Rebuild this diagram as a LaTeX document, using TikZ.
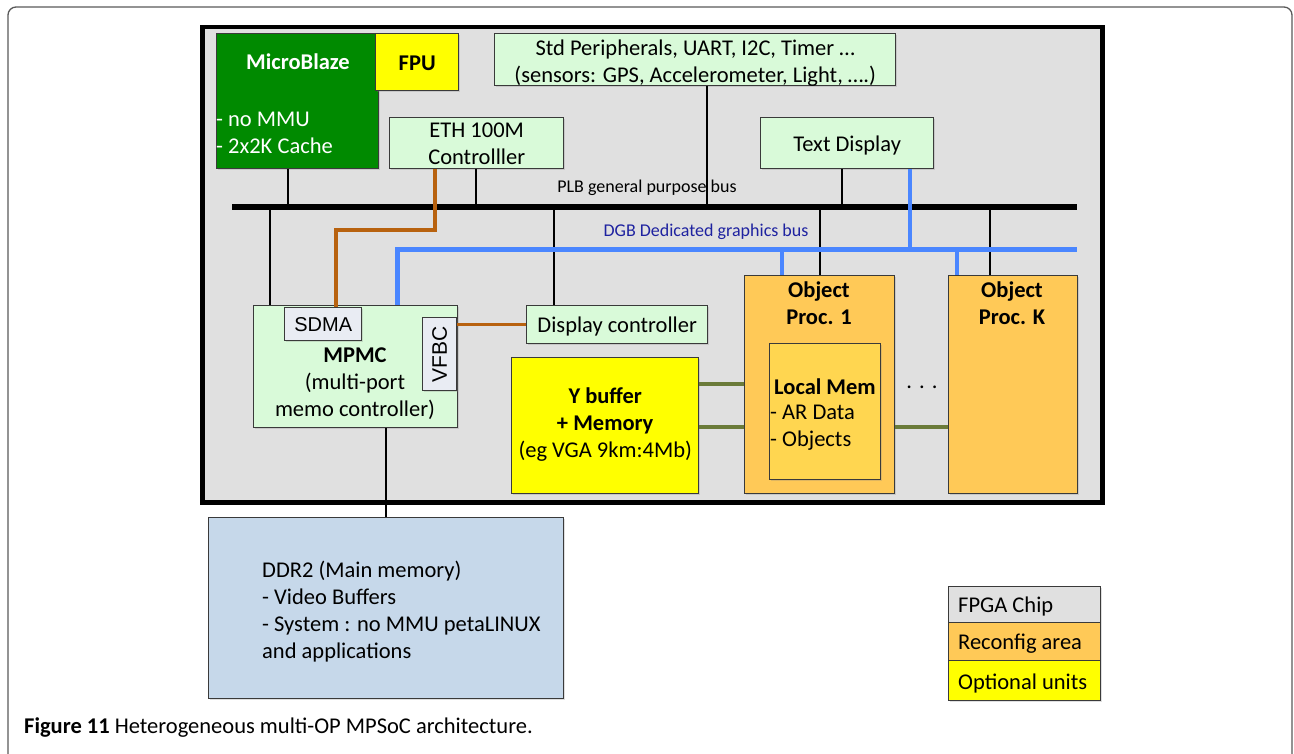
\documentclass[tikz,border=0pt]{standalone}
\usepackage{fontspec}
\setmainfont{Carlito}
\newfontfamily\arialfont{Liberation Sans}
\usetikzlibrary{shadows}
\definecolor{chipgray}{HTML}{E0E0E0}
\definecolor{lgreen}{HTML}{D9FAD9}
\definecolor{mbgreen}{HTML}{008A00}
\definecolor{optyellow}{HTML}{FFFF00}
\definecolor{reconf}{HTML}{FFC957}
\definecolor{lmem}{HTML}{FFD650}
\definecolor{ddrblue}{HTML}{C6D8EA}
\definecolor{busblue}{HTML}{4A86FF}
\definecolor{lblblue}{HTML}{1E22A0}
\definecolor{brn}{HTML}{B8620F}
\definecolor{olive}{HTML}{6B7B3A}
\definecolor{portgray}{HTML}{E9ECF3}
\definecolor{edge}{HTML}{3A3A3A}
\tikzset{
  blk/.style={draw=edge, line width=1.4pt, inner sep=0pt, anchor=north west,
    drop shadow={shadow xshift=1.5pt, shadow yshift=-1.5pt, opacity=0.25}},
  txt/.style={font=\fontsize{22.5}{27}\selectfont, align=center, inner sep=0pt, yshift=-2pt},
  btxt/.style={font=\fontsize{22.5}{27}\selectfont\bfseries, align=center, inner sep=0pt, yshift=-2pt},
  small/.style={font=\fontsize{18}{20}\selectfont, inner sep=1pt},
  wire/.style={line width=2.6pt, draw=black},
  brwire/.style={line width=3.2pt, draw=brn},
  olwire/.style={line width=3.2pt, draw=olive},
  dgbbus/.style={line width=5pt, draw=busblue},
  dgbwire/.style={line width=3.2pt, draw=busblue},
  plbbus/.style={line width=6.5pt, draw=black},
}
\begin{document}
\begin{tikzpicture}[x=1pt,y=-1pt]
\useasboundingbox (0,0) rectangle (1294,754);
% page frame, open at the bottom
\draw[draw=black!65, line width=1.3pt, rounded corners=8pt]
  (8,754) -- (8,7) -- (1292,7) -- (1292,754);

% FPGA chip
\node[draw=black, line width=4.5pt, fill=chipgray, inner sep=0pt, anchor=north west,
  minimum width=900pt, minimum height=475pt] (chip) at (200,25) {};

% processor and peripherals
\node[blk, fill=mbgreen, minimum width=162pt, minimum height=135pt] (mb) at (216,33) {};
\node[btxt, text=white] (mbname) at (298,60) {MicroBlaze};
\node[txt, text=white, align=left, anchor=west] (mbfeat) at (216,130.5) {- no MMU\\- 2x2K Cache};
\node[blk, fill=optyellow, minimum width=83pt, minimum height=57pt] (fpu) at (375,33) {};
\node[btxt] (fputxt) at ([yshift=1pt]fpu.center) {FPU};

\node[blk, fill=lgreen, minimum width=174pt, minimum height=51pt] (eth) at (389,117) {};
\node[txt] (ethtxt) at ([yshift=1pt]eth.center) {ETH 100M\\Controlller};

\node[blk, fill=lgreen, minimum width=401pt, minimum height=52pt] (std) at (494,33) {};
\node[txt] (stdtxt) at ([yshift=-1pt]std.center) {Std Peripherals, UART, I2C, Timer \dots\\(sensors: GPS, Accelerometer, Light, \dots.)};

\node[blk, fill=lgreen, minimum width=173pt, minimum height=51pt] (tdisp) at (760,117) {};
\node[txt] (tdtxt) at (tdisp.center) {Text Display};

% buses
\coordinate (plbL) at (232,207);
\coordinate (plbR) at (1077,207);
\coordinate (dgbR) at (1077,250);
\node[small] (plblbl) at (647,188) {PLB general purpose bus};
\node[small, text=lblblue] (dgblbl) at (706,232) {DGB Dedicated graphics bus};

% memory controller
\node[blk, fill=lgreen, minimum width=204pt, minimum height=122pt] (mpmc) at (253,305) {};
\node[txt] (mpmctxt) at (355,382) {\textbf{MPMC}\\(multi-port\\memo controller)};
\node[blk, fill=portgray, minimum width=77pt, minimum height=33pt] (sdma) at (284,307) {};
\node[inner sep=0pt, font=\arialfont\fontsize{20}{24}\selectfont] (sdmatxt) at (sdma.center) {SDMA};
\node[blk, fill=portgray, minimum width=34pt, minimum height=73pt] (vfbc) at (422,317) {};
\node[inner sep=0pt, rotate=90, font=\arialfont\fontsize{21}{24}\selectfont] (vfbctxt) at (vfbc.center) {VFBC};

\node[blk, fill=lgreen, minimum width=181pt, minimum height=38pt] (disp) at (526,305) {};
\node[txt] (disptxt) at (disp.center) {Display controller};

\node[blk, fill=optyellow, minimum width=187pt, minimum height=136pt] (yb) at (511,357) {};
\node[txt] (ybtxt) at ([yshift=3pt]yb.center) {\textbf{Y buffer}\\\textbf{+ Memory}\\(eg VGA 9km:4Mb)};

% object processors
\node[blk, fill=reconf, minimum width=150pt, minimum height=218pt] (op1) at (744,275) {};
\node[btxt, anchor=north] (op1txt) at (819,280) {Object\\Proc. 1};
\node[blk, fill=lmem, minimum width=111pt, minimum height=136pt] (lm) at (769,343) {};
\node[btxt] (lmname) at (825,385) {Local Mem};
\node[txt, align=left, anchor=west] (lmfeat) at (770,425.5) {- AR Data\\- Objects};
\node[blk, fill=reconf, minimum width=129pt, minimum height=218pt] (opk) at (948,275) {};
\node[btxt, anchor=north] (opktxt) at (1012,280) {Object\\Proc. K};
\node[txt] (dots) at (922,385) {.\hspace{7pt}.\hspace{7pt}.};

% external memory
\node[blk, fill=ddrblue, minimum width=355pt, minimum height=181pt] (ddr) at (208,517) {};
\node[txt, align=left, anchor=north west] (ddrtxt) at (262,559)
  {DDR2 (Main memory)\\- Video Buffers\\- System : no MMU petaLINUX\\and applications};

% PLB drops
\draw[wire] (288,0 |- mb.south) -- (288,0 |- plbL);
\draw[wire] (476,0 |- eth.south) -- (476,0 |- plbL);
\draw[wire] (707,0 |- std.south) -- (707,0 |- plbL);
\draw[wire] (842,0 |- tdisp.south) -- (842,0 |- plbL);
\draw[wire] (270,0 |- plbL) -- (270,0 |- mpmc.north);
\draw[wire] (554,0 |- plbL) -- (554,0 |- disp.north);
\draw[wire] (820,0 |- plbL) -- (820,0 |- op1.north);
\draw[wire] (990,0 |- plbL) -- (990,0 |- opk.north);
\draw[plbbus] (plbL) -- (plbR);

% DGB bus and drops
\draw[dgbwire] (910,0 |- tdisp.south) -- (910,0 |- dgbR);
\draw[dgbwire] (782,0 |- dgbR) -- (782,0 |- op1.north);
\draw[dgbwire] (957,0 |- dgbR) -- (957,0 |- opk.north);
\draw[dgbbus] (397,0 |- mpmc.north) |- (dgbR);

% point-to-point links
\draw[brwire] (435,0 |- eth.south) |- (336,230) -- (336,0 |- sdma.north);
\draw[brwire] (vfbc.east |- disp.west) -- (disp.west);
\draw[olwire] (yb.east |- 0,384) -- (op1.west |- 0,384);
\draw[olwire] (yb.east |- 0,427) -- (op1.west |- 0,427);
\draw[olwire] (op1.east |- 0,427) -- (opk.west |- 0,427);
\draw[wire] (386,0 |- mpmc.south) -- (386,0 |- ddr.north);

% legend
\node[blk, fill=chipgray, minimum width=152pt, minimum height=36pt] (lg1) at (948,586) {};
\node[txt, anchor=west] (lg1txt) at (958,604) {FPGA Chip};
\node[blk, fill=reconf, minimum width=152pt, minimum height=38pt] (lg2) at (948,622) {};
\node[txt, anchor=west] (lg2txt) at (958,642) {Reconfig area};
\node[blk, fill=optyellow, minimum width=152pt, minimum height=40pt] (lg3) at (948,660) {};
\node[txt, anchor=west] (lg3txt) at (958,681) {Optional units};

% caption
\node[anchor=west, inner sep=0pt, font=\fontsize{22.5}{24}\selectfont] (cap) at (24,728)
  {\textbf{Figure 11} Heterogeneous multi-OP MPSoC architecture.};
\end{tikzpicture}
\end{document}
